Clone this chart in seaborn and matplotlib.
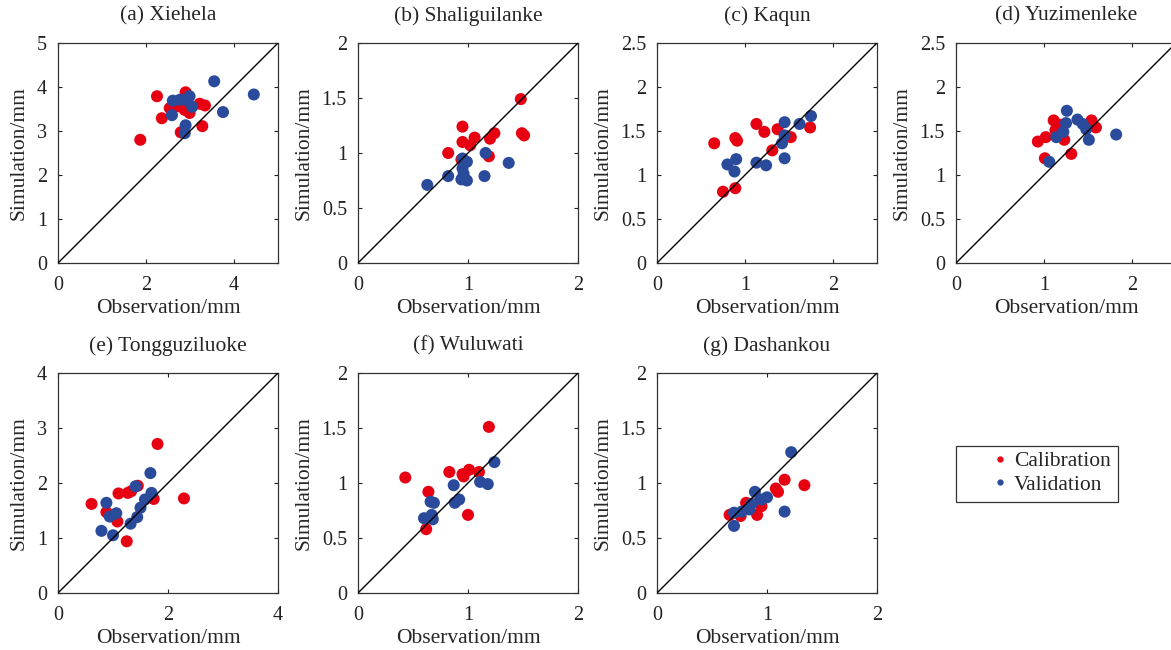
"""
Observed vs simulated values at seven stations (calibration / validation).
"""

import matplotlib.pyplot as plt
import pandas as pd
import seaborn as sns
from matplotlib.lines import Line2D
from matplotlib.patches import Rectangle

# ---- data ----
titles = ["(a) Xiehela", "(b) Shaliguilanke", "(c) Kaqun", "(d) Yuzimenleke",
          "(e) Tongguziluoke", "(f) Wuluwati", "(g) Dashankou"]
axis_max = [5, 2, 2.5, 2.5, 4, 2, 2]
tick_steps = [1, 0.5, 0.5, 0.5, 1, 0.5, 0.5]
x_tick_steps = [2, 1, 1, 1, 2, 1, 1]

a_cal_obs = [1.87, 2.25, 2.36, 2.54, 2.90, 2.79, 2.99, 2.88, 3.22, 3.34, 3.28, 2.73]
a_cal_sim = [2.80, 3.79, 3.29, 3.52, 3.88, 2.97, 3.41, 3.48, 3.62, 3.58, 3.11, 3.56]
a_val_obs = [3.55, 4.45, 3.75, 2.61, 2.59, 2.77, 2.90, 2.99, 3.05, 2.90, 2.88]
a_val_sim = [4.13, 3.83, 3.43, 3.69, 3.36, 3.71, 3.71, 3.79, 3.55, 3.13, 2.95]

b_cal_obs = [1.48, 0.95, 0.95, 1.06, 1.02, 0.82, 1.24, 1.20, 1.49, 1.51, 1.19, 0.94]
b_cal_sim = [1.49, 1.24, 1.10, 1.14, 1.07, 1.00, 1.18, 1.13, 1.18, 1.16, 0.97, 0.94]
b_val_obs = [0.63, 0.82, 0.95, 0.99, 0.95, 0.94, 0.99, 1.15, 1.16, 1.37, 0.96]
b_val_sim = [0.71, 0.79, 0.95, 0.92, 0.86, 0.76, 0.75, 0.79, 1.00, 0.91, 0.81]

c_cal_obs = [0.65, 0.89, 0.91, 1.13, 1.22, 1.37, 1.52, 1.74, 1.31, 0.75, 0.89]
c_cal_sim = [1.36, 1.42, 1.39, 1.58, 1.49, 1.52, 1.43, 1.54, 1.28, 0.81, 0.85]
c_val_obs = [1.75, 1.62, 1.45, 1.45, 1.42, 1.45, 1.13, 1.24, 0.80, 0.90, 0.88]
c_val_sim = [1.67, 1.58, 1.60, 1.45, 1.36, 1.19, 1.14, 1.11, 1.12, 1.18, 1.04]

d_cal_obs = [0.93, 1.02, 1.01, 1.11, 1.18, 1.23, 1.31, 1.54, 1.59, 1.13]
d_cal_sim = [1.38, 1.43, 1.19, 1.62, 1.57, 1.40, 1.24, 1.62, 1.54, 1.51]
d_val_obs = [1.26, 1.25, 1.22, 1.14, 1.38, 1.44, 1.48, 1.51, 1.82, 1.06]
d_val_sim = [1.73, 1.59, 1.49, 1.43, 1.63, 1.58, 1.52, 1.40, 1.46, 1.15]

e_cal_obs = [0.61, 0.88, 1.08, 1.10, 1.27, 1.45, 1.25, 1.74, 1.81, 2.29, 1.33]
e_cal_sim = [1.62, 1.47, 1.30, 1.81, 1.82, 1.95, 0.94, 1.71, 2.71, 1.72, 1.85]
e_val_obs = [0.79, 1.00, 0.88, 0.94, 1.06, 1.32, 1.44, 1.50, 1.58, 1.70, 1.68, 1.41]
e_val_sim = [1.13, 1.05, 1.64, 1.39, 1.45, 1.26, 1.38, 1.55, 1.70, 1.82, 2.18, 1.94]

f_cal_obs = [0.43, 1.19, 0.64, 0.62, 0.83, 0.95, 1.01, 0.96, 1.10, 1.00]
f_cal_sim = [1.05, 1.51, 0.92, 0.58, 1.10, 1.08, 1.12, 1.06, 1.10, 0.71]
f_val_obs = [1.24, 1.11, 1.18, 0.87, 0.88, 0.92, 0.66, 0.69, 0.60, 0.68, 0.67]
f_val_sim = [1.19, 1.01, 0.99, 0.98, 0.82, 0.85, 0.83, 0.82, 0.68, 0.67, 0.71]

g_cal_obs = [1.34, 1.16, 1.08, 1.10, 0.95, 0.91, 0.81, 0.76, 0.66, 0.84, 0.93]
g_cal_sim = [0.98, 1.03, 0.95, 0.92, 0.79, 0.71, 0.82, 0.70, 0.71, 0.79, 0.83]
g_val_obs = [1.22, 1.16, 0.89, 1.00, 0.95, 0.70, 0.70, 0.77, 0.84, 0.86]
g_val_sim = [1.28, 0.74, 0.92, 0.87, 0.85, 0.61, 0.73, 0.74, 0.76, 0.81]

stations = [
    (a_cal_obs, a_cal_sim, a_val_obs, a_val_sim),
    (b_cal_obs, b_cal_sim, b_val_obs, b_val_sim),
    (c_cal_obs, c_cal_sim, c_val_obs, c_val_sim),
    (d_cal_obs, d_cal_sim, d_val_obs, d_val_sim),
    (e_cal_obs, e_cal_sim, e_val_obs, e_val_sim),
    (f_cal_obs, f_cal_sim, f_val_obs, f_val_sim),
    (g_cal_obs, g_cal_sim, g_val_obs, g_val_sim),
]

RED = "#E60012"
BLUE = "#2A4B9B"
palette = {"Calibration": RED, "Validation": BLUE}

sns.set_theme(style="ticks")
plt.rcParams["font.family"] = ["Liberation Serif", "DejaVu Serif"]
plt.rcParams["xtick.direction"] = "in"
plt.rcParams["ytick.direction"] = "in"

fig = plt.figure(figsize=(11.71, 6.5), dpi=100)
FW, FH = 1171, 650

W = 220 / FW
H = 220 / FH
lefts = [58, 358, 657, 956, 58, 358, 657]
bottoms = [263, 263, 263, 263, 593, 593, 593]

for i, (cal_obs, cal_sim, val_obs, val_sim) in enumerate(stations):
    ax = fig.add_axes([lefts[i] / FW, 1 - bottoms[i] / FH, W, H])
    df = pd.concat([
        pd.DataFrame({"obs": cal_obs, "sim": cal_sim, "set": "Calibration"}),
        pd.DataFrame({"obs": val_obs, "sim": val_sim, "set": "Validation"}),
    ])
    sns.scatterplot(data=df, x="obs", y="sim", hue="set", palette=palette,
                    s=75, edgecolor="none", linewidth=0, legend=False, ax=ax, zorder=3)
    lim = axis_max[i]
    ax.axline((0, 0), slope=1, color="black", lw=1.0, zorder=4)
    ax.set_xlim(0, lim)
    ax.set_ylim(0, lim)
    xs = [k * x_tick_steps[i] for k in range(int(lim / x_tick_steps[i]) + 1)]
    ys = [k * tick_steps[i] for k in range(int(round(lim / tick_steps[i])) + 1)]
    ax.set_xticks(xs)
    ax.set_yticks(ys)
    ax.set_xticklabels([f"{v:g}" for v in xs])
    ax.set_yticklabels([f"{v:g}" for v in ys])
    ax.tick_params(axis="x", top=True, length=3, width=0.8, labelsize=14.5, pad=9,
                   colors="#222222")
    ax.tick_params(axis="y", right=True, length=3, width=0.8, labelsize=14.5, pad=8,
                   colors="#222222")
    for sp in ax.spines.values():
        sp.set_linewidth(0.9)
        sp.set_color("#333333")
    ax.set_xlabel("Observation/mm", fontsize=15.5, labelpad=3)
    ax.set_ylabel("Simulation/mm", fontsize=15.5, labelpad=6)
    ax.set_title(titles[i], fontsize=15.5, pad=16)

# legend: frame drawn separately so the dot can sit well inside the box
handles = [
    Line2D([], [], ls="none", marker="o", markersize=3.5, color=RED, label="Calibration"),
    Line2D([], [], ls="none", marker="o", markersize=3.5, color=BLUE, label="Validation"),
]
fig.legend(handles=handles, loc="upper left",
           bbox_to_anchor=(989 / FW, 1 - 451 / FH), fontsize=15.5,
           frameon=False, handlelength=1.0, handletextpad=0.15,
           borderpad=0, labelspacing=0.16, borderaxespad=0)
fig.patches.append(Rectangle((956 / FW, 1 - 502 / FH), 162 / FW, 56 / FH,
                             transform=fig.transFigure, fill=False,
                             edgecolor="#333333", linewidth=0.9))

fig.savefig("out.png", dpi=100)
